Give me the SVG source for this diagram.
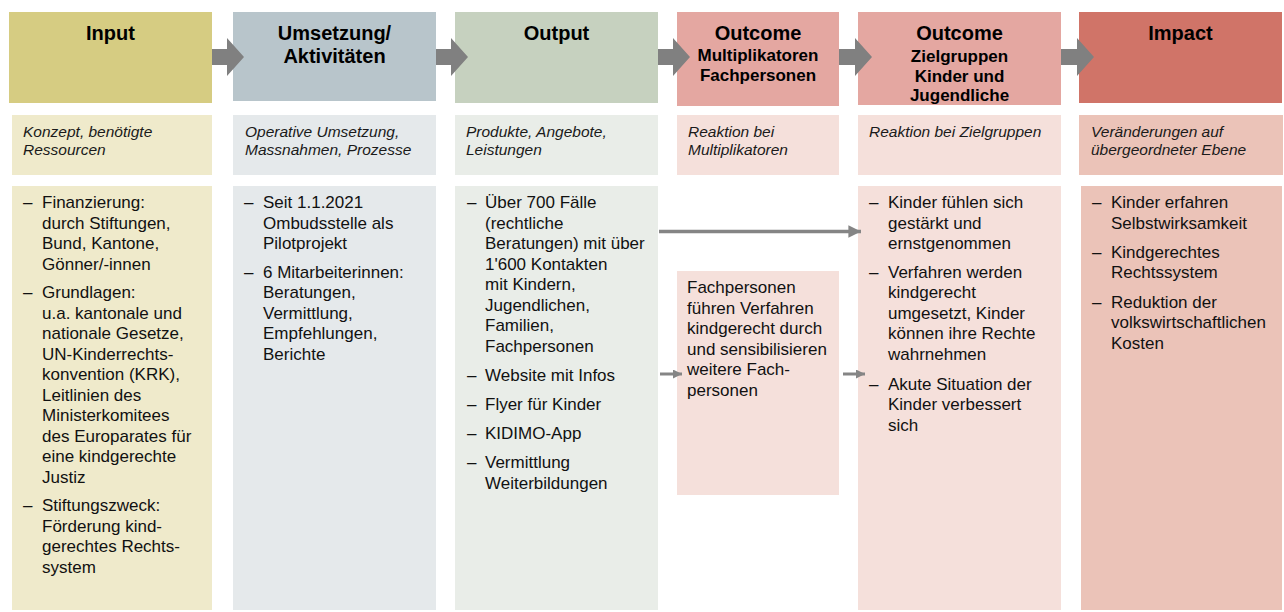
<svg xmlns="http://www.w3.org/2000/svg" width="1284" height="612" viewBox="0 0 1284 612">
<style>
text{font-family:"Liberation Sans",Arial,sans-serif;fill:#000}
.h{font-size:20px;font-weight:bold;text-anchor:middle}
.hs{font-size:17px;font-weight:bold;text-anchor:middle}
.s{font-size:15.5px;font-style:italic;fill:#1a1a1a}
.b{font-size:17px;fill:#111}
.blk{fill:#808080}
.con{stroke:#858585;stroke-width:3.5;fill:none}
</style>
<defs>
<marker id="ah" viewBox="0 0 10 10" refX="10" refY="5" markerWidth="3.8" markerHeight="3.6" markerUnits="strokeWidth" orient="auto"><path d="M0,0 L10,5 L0,10 z" fill="#858585"/></marker>
<marker id="ahs" viewBox="0 0 10 10" refX="10" refY="5" markerWidth="3.2" markerHeight="3" markerUnits="strokeWidth" orient="auto"><path d="M0,0 L10,5 L0,10 z" fill="#858585"/></marker>
</defs>

<g id="input">
<rect x="9" y="12" width="203" height="91" fill="#D6CC82"/>
<text class="h" x="110.5" y="40">Input</text>
<rect x="12" y="115" width="200" height="60" fill="#EFEACB"/>
<text class="s" x="23" y="136.5">Konzept, benötigte<tspan x="23" y="154.5">Ressourcen</tspan></text>
<rect x="12" y="186" width="200" height="424" fill="#EFEACB"/>
<text class="b"><tspan x="23" y="208">–</tspan><tspan x="42" y="208">Finanzierung:</tspan><tspan x="42" y="228.5">durch Stiftungen,</tspan><tspan x="42" y="249">Bund, Kantone,</tspan><tspan x="42" y="269.5">Gönner/-innen</tspan>
<tspan x="23" y="298">–</tspan><tspan x="42" y="298">Grundlagen:</tspan><tspan x="42" y="318.5">u.a. kantonale und</tspan><tspan x="42" y="339">nationale Gesetze,</tspan><tspan x="42" y="359.5">UN-Kinderrechts-</tspan><tspan x="42" y="380">konvention (KRK),</tspan><tspan x="42" y="400.5">Leitlinien des</tspan><tspan x="42" y="421">Ministerkomitees</tspan><tspan x="42" y="441.5">des Europarates für</tspan><tspan x="42" y="462">eine kindgerechte</tspan><tspan x="42" y="482.5">Justiz</tspan>
<tspan x="23" y="511">–</tspan><tspan x="42" y="511">Stiftungszweck:</tspan><tspan x="42" y="531.5">Förderung kind-</tspan><tspan x="42" y="552">gerechtes Rechts-</tspan><tspan x="42" y="572.5">system</tspan></text>
</g>

<g id="umsetzung">
<rect x="233" y="12" width="203" height="89" fill="#B8C5CB"/>
<text class="h" x="334.5" y="40">Umsetzung/<tspan x="334.5" y="63">Aktivitäten</tspan></text>
<rect x="233" y="115" width="203" height="60" fill="#E5E9EB"/>
<text class="s" x="245" y="136.5">Operative Umsetzung,<tspan x="245" y="154.5">Massnahmen, Prozesse</tspan></text>
<rect x="233" y="186" width="203" height="424" fill="#E5E9EB"/>
<text class="b"><tspan x="244" y="208">–</tspan><tspan x="263" y="208">Seit 1.1.2021</tspan><tspan x="263" y="228.5">Ombudsstelle als</tspan><tspan x="263" y="249">Pilotprojekt</tspan>
<tspan x="244" y="277.5">–</tspan><tspan x="263" y="277.5">6 Mitarbeiterinnen:</tspan><tspan x="263" y="298">Beratungen,</tspan><tspan x="263" y="318.5">Vermittlung,</tspan><tspan x="263" y="339">Empfehlungen,</tspan><tspan x="263" y="359.5">Berichte</tspan></text>
</g>

<g id="output">
<rect x="455" y="12" width="203" height="91" fill="#C6D1BF"/>
<text class="h" x="556.5" y="40">Output</text>
<rect x="455" y="115" width="203" height="60" fill="#E9EDE8"/>
<text class="s" x="466" y="136.5">Produkte, Angebote,<tspan x="466" y="154.5">Leistungen</tspan></text>
<rect x="455" y="186" width="203" height="424" fill="#E9EDE8"/>
<text class="b"><tspan x="467" y="208">–</tspan><tspan x="485" y="208">Über 700 Fälle</tspan><tspan x="485" y="228.5">(rechtliche</tspan><tspan x="485" y="249">Beratungen) mit über</tspan><tspan x="485" y="269.5">1'600 Kontakten</tspan><tspan x="485" y="290">mit Kindern,</tspan><tspan x="485" y="310.5">Jugendlichen,</tspan><tspan x="485" y="331">Familien,</tspan><tspan x="485" y="351.5">Fachpersonen</tspan>
<tspan x="467" y="380.5">–</tspan><tspan x="485" y="380.5">Website mit Infos</tspan>
<tspan x="467" y="409.5">–</tspan><tspan x="485" y="409.5">Flyer für Kinder</tspan>
<tspan x="467" y="439">–</tspan><tspan x="485" y="439">KIDIMO-App</tspan>
<tspan x="467" y="468">–</tspan><tspan x="485" y="468">Vermittlung</tspan><tspan x="485" y="488.5">Weiterbildungen</tspan></text>
</g>

<g id="outcome-multiplikatoren">
<rect x="677" y="12" width="162" height="94" fill="#E4A7A1"/>
<text class="h" x="758" y="40">Outcome</text>
<text class="hs" x="758" y="61">Multiplikatoren<tspan x="758" y="81">Fachpersonen</tspan></text>
<rect x="677" y="115" width="162" height="60" fill="#F5E0DB"/>
<text class="s" x="688" y="136.5">Reaktion bei<tspan x="688" y="154.5">Multiplikatoren</tspan></text>
<rect x="677" y="271" width="162" height="224" fill="#F5E0DB"/>
<text class="b"><tspan x="687" y="293">Fachpersonen</tspan><tspan x="687" y="313.5">führen Verfahren</tspan><tspan x="687" y="334">kindgerecht durch</tspan><tspan x="687" y="354.5">und sensibilisieren</tspan><tspan x="687" y="375">weitere Fach-</tspan><tspan x="687" y="395.5">personen</tspan></text>
</g>

<g id="outcome-zielgruppen">
<rect x="858" y="12" width="203" height="93" fill="#E4A7A1"/>
<text class="h" x="959.5" y="40">Outcome</text>
<text class="hs" x="959.5" y="62">Zielgruppen<tspan x="959.5" y="81.5">Kinder und</tspan><tspan x="959.5" y="101">Jugendliche</tspan></text>
<rect x="858" y="115" width="203" height="60" fill="#F5E0DB"/>
<text class="s" x="869" y="136.5">Reaktion bei Zielgruppen</text>
<rect x="858" y="186" width="203" height="424" fill="#F5E0DB"/>
<text class="b"><tspan x="869" y="208">–</tspan><tspan x="888" y="208">Kinder fühlen sich</tspan><tspan x="888" y="228.5">gestärkt und</tspan><tspan x="888" y="249">ernstgenommen</tspan>
<tspan x="869" y="277.5">–</tspan><tspan x="888" y="277.5">Verfahren werden</tspan><tspan x="888" y="298">kindgerecht</tspan><tspan x="888" y="318.5">umgesetzt, Kinder</tspan><tspan x="888" y="339">können ihre Rechte</tspan><tspan x="888" y="359.5">wahrnehmen</tspan>
<tspan x="869" y="389.5">–</tspan><tspan x="888" y="389.5">Akute Situation der</tspan><tspan x="888" y="410">Kinder verbessert</tspan><tspan x="888" y="430.5">sich</tspan></text>
</g>

<g id="impact">
<rect x="1079" y="12" width="203" height="91" fill="#D07468"/>
<text class="h" x="1180.5" y="40">Impact</text>
<rect x="1079" y="115" width="204" height="60" fill="#EBC3B8"/>
<text class="s" x="1091" y="136.5">Veränderungen auf<tspan x="1091" y="154.5">übergeordneter Ebene</tspan></text>
<rect x="1081" y="186" width="201" height="424" fill="#EBC3B8"/>
<text class="b"><tspan x="1092" y="208">–</tspan><tspan x="1111" y="208">Kinder erfahren</tspan><tspan x="1111" y="228.5">Selbstwirksamkeit</tspan>
<tspan x="1092" y="257.5">–</tspan><tspan x="1111" y="257.5">Kindgerechtes</tspan><tspan x="1111" y="278">Rechtssystem</tspan>
<tspan x="1092" y="307.5">–</tspan><tspan x="1111" y="307.5">Reduktion der</tspan><tspan x="1111" y="328">volkswirtschaftlichen</tspan><tspan x="1111" y="348.5">Kosten</tspan></text>
</g>

<g id="connectors">
<path class="blk" d="M212,49 H227 V38 L244,57 L227,76 V65 H212 z"/>
<path class="blk" d="M436,49 H451 V38 L468,57 L451,76 V65 H436 z"/>
<path class="blk" d="M658,49 H673 V38 L690,57 L673,76 V65 H658 z"/>
<path class="blk" d="M839,49 H855 V38 L872,57 L855,76 V65 H839 z"/>
<path class="blk" d="M1061,49 H1077 V38 L1094,57 L1077,76 V65 H1061 z"/>
<line class="con" x1="659" y1="231.5" x2="861" y2="231.5" marker-end="url(#ah)"/>
<line class="con" x1="660" y1="374" x2="682" y2="374" style="stroke-width:3" marker-end="url(#ahs)"/>
<line class="con" x1="843" y1="374" x2="865" y2="374" style="stroke-width:3" marker-end="url(#ahs)"/>
</g>
</svg>
